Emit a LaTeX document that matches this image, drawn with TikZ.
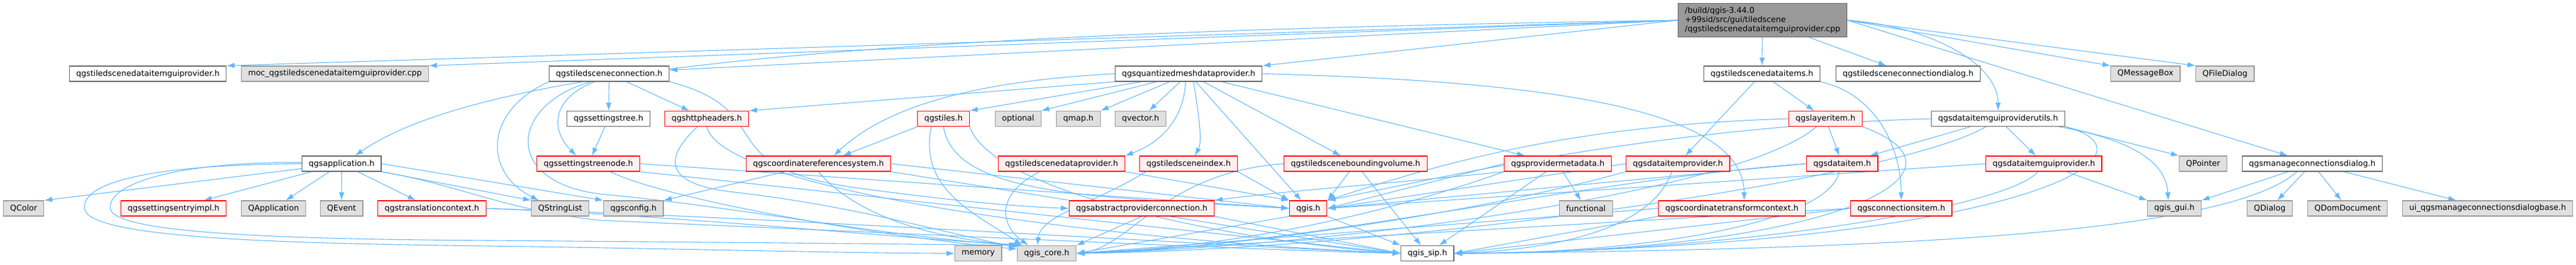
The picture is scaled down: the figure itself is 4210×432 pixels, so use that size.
\documentclass[tikz,border=0pt]{standalone}
\usepackage{fontspec}
\setmainfont{DejaVu Sans}
\usetikzlibrary{arrows.meta,backgrounds}

\definecolor{edgeblue}{HTML}{63B8FF}
\definecolor{boxgrey}{HTML}{E0E0E0}
\definecolor{boxgreyline}{HTML}{999999}
\definecolor{boxdark}{HTML}{666666}
\definecolor{boxpink}{HTML}{FFF0F0}

\begin{document}
\begin{tikzpicture}[
	x=1pt, y=1pt,
	font=\fontsize{13}{15}\selectfont,
	filebox/.style={draw, rectangle, line width=1.2pt, minimum height=25pt, inner xsep=11pt, inner ysep=2pt, anchor=west},
	mainfile/.style={filebox, draw=boxdark, fill=boxgreyline, align=left, minimum height=55pt, anchor=north west},
	ownfile/.style={filebox, draw=boxdark, fill=white},
	sysfile/.style={filebox, draw=boxgreyline, fill=boxgrey},
	redfile/.style={filebox, draw=red, fill=boxpink},
	dep/.style={draw=edgeblue, line width=1.1pt, -{Latex[length=13pt,width=9pt]}}
	]
	\useasboundingbox (0,0) rectangle (4210,432);
	
	\node[mainfile] (m) at (2742,427) {/build/qgis-3.44.0\\+99sid/src/gui/tiledscene\\/qgstiledscenedataitemguiprovider.cpp};
	
	% row 1
	\node[ownfile] (gip) at (113,311.5) {qgstiledscenedataitemguiprovider.h};
	\node[sysfile] (moc) at (394,311.5) {moc\_qgstiledscenedataitemguiprovider.cpp};
	\node[ownfile] (conn) at (897,311.5) {qgstiledsceneconnection.h};
	\node[ownfile] (qmesh) at (1822,311.5) {qgsquantizedmeshdataprovider.h};
	\node[ownfile] (items) at (2784,311.5) {qgstiledscenedataitems.h};
	\node[ownfile] (cdlg) at (3000,311.5) {qgstiledsceneconnectiondialog.h};
	\node[sysfile] (msgbox) at (3449,311.5) {QMessageBox};
	\node[sysfile] (filedlg) at (3588,311.5) {QFileDialog};
	
	% row 2
	\node[ownfile] (stree) at (926,238) {qgssettingstree.h};
	\node[redfile] (http) at (1086,238) {qgshttpheaders.h};
	\node[redfile] (tiles) at (1499,238) {qgstiles.h};
	\node[sysfile] (optional) at (1626,238) {optional};
	\node[sysfile] (qmap) at (1726,238) {qmap.h};
	\node[sysfile] (qvector) at (1822,238) {qvector.h};
	\node[redfile] (layeritem) at (2923,238) {qgslayeritem.h};
	\node[ownfile] (utils) at (3156,238) {qgsdataitemguiproviderutils.h};
	
	% row 3
	\node[ownfile] (app) at (493,164.5) {qgsapplication.h};
	\node[redfile] (stnode) at (877,164.5) {qgssettingstreenode.h};
	\node[redfile] (crs) at (1219,164.5) {qgscoordinatereferencesystem.h};
	\node[redfile] (tsdp) at (1631,164.5) {qgstiledscenedataprovider.h};
	\node[redfile] (tsidx) at (1862,164.5) {qgstiledsceneindex.h};
	\node[redfile] (tsbv) at (2098,164.5) {qgstiledsceneboundingvolume.h};
	\node[redfile] (provmeta) at (2458,164.5) {qgsprovidermetadata.h};
	\node[redfile] (dip) at (2657,164.5) {qgsdataitemprovider.h};
	\node[redfile] (dataitem) at (2952,164.5) {qgsdataitem.h};
	\node[redfile] (dgp) at (3245,164.5) {qgsdataitemguiprovider.h};
	\node[sysfile] (qpointer) at (3561,164.5) {QPointer};
	\node[ownfile] (mcd) at (3664,164.5) {qgsmanageconnectionsdialog.h};
	
	% row 4
	\node[sysfile] (qcolor) at (5,91.5) {QColor};
	\node[redfile] (sentry) at (197,91.5) {qgssettingsentryimpl.h};
	\node[sysfile] (qapp) at (394,91.5) {QApplication};
	\node[sysfile] (qevent) at (523,91.5) {QEvent};
	\node[redfile] (transctx) at (617,91.5) {qgstranslationcontext.h};
	\node[sysfile] (strlist) at (868,91.5) {QStringList};
	\node[sysfile] (config) at (986,91.5) {qgsconfig.h};
	\node[redfile] (apc) at (1747,91.5) {qgsabstractproviderconnection.h};
	\node[redfile] (qgis) at (2107,91.5) {qgis.h};
	\node[sysfile] (functional) at (2548,91.5) {functional};
	\node[redfile] (ctc) at (2710,91.5) {qgscoordinatetransformcontext.h};
	\node[redfile] (connitem) at (3024,91.5) {qgsconnectionsitem.h};
	\node[sysfile] (gui) at (3509,91.5) {qgis\_gui.h};
	\node[sysfile] (qdialog) at (3672,91.5) {QDialog};
	\node[sysfile] (qdom) at (3771,91.5) {QDomDocument};
	\node[sysfile] (uibase) at (3926,91.5) {ui\_qgsmanageconnectionsdialogbase.h};
	
	% row 5
	\node[sysfile] (memory) at (1560,18) {memory};
	\node[sysfile] (core) at (1662,18) {qgis\_core.h};
	\node[ownfile] (sip) at (2289,18) {qgis\_sip.h};
	
	\begin{scope}[on background layer]
	\path
	(m.west) edge[dep] (gip.north east)
	(m.west) edge[dep] (moc.north east)
	(m.west) edge[dep] ([yshift=6pt]conn.east)
	(m.west) edge[dep] (qmesh.north east)
	(m) edge[dep] (items)
	(m) edge[dep] (cdlg)
	(m.east) edge[dep] (msgbox.north west)
	(m.east) edge[dep] (filedlg.north west)
	(m.east) edge[dep] ([xshift=-40pt]mcd.north)
	
	(conn) edge[dep] (stree)
	(conn) edge[dep] (http)
	(stree) edge[dep] (stnode)
	(stnode.east) edge[dep] (qgis.west)
	(stnode.south east) edge[dep] (sip.west)
	
	([yshift=-8pt]app.west) edge[dep] (qcolor.north east)
	(app) edge[dep] (sentry)
	(app) edge[dep] (qapp)
	(app) edge[dep] (qevent)
	(app) edge[dep] (transctx)
	(app.south east) edge[dep] (strlist.north west)
	(app.east) edge[dep] (config.north west)
	
	(crs) edge[dep] (config.north east)
	(crs.east) edge[dep] (qgis.west)
	(crs.south east) edge[dep] (sip.west)
	(tiles.south west) edge[dep] ([xshift=40pt]crs.north)
	
	(qmesh) edge[dep] (tiles.north east)
	(qmesh) edge[dep] (optional.north east)
	(qmesh) edge[dep] (qmap.north east)
	(qmesh) edge[dep] (qvector)
	(qmesh.south west) edge[dep] (http.north east)
	(qmesh) edge[dep] (qgis)
	(qmesh) edge[dep] (tsbv)
	(qmesh) edge[dep] (provmeta)
	
	(tsdp.south east) edge[dep] (qgis.north west)
	(tsidx.south east) edge[dep] (qgis.north west)
	(tsbv) edge[dep] (qgis.north east)
	(tsbv) edge[dep] (sip)
	(provmeta) edge[dep] (functional)
	(provmeta) edge[dep] (sip)
	(provmeta.west) edge[dep] (qgis.east)
	(dip.west) edge[dep] (qgis.east)
	(layeritem) edge[dep] (dataitem)
	(dataitem.west) edge[dep] (qgis.east)
	(items) edge[dep] (dip)
	(items) edge[dep] (layeritem)
	(utils) edge[dep] (dataitem)
	(utils) edge[dep] (dgp)
	(utils.south east) edge[dep] (qpointer.north west)
	(dgp) edge[dep] (gui.north west)
	(dgp.west) edge[dep] (qgis.east)
	(connitem.west) edge[dep] (core.east)
	(connitem.west) edge[dep] (sip.east)
	(ctc.west) edge[dep] (core.east)
	(ctc.south west) edge[dep] (sip.east)
	(mcd) edge[dep] (gui.north east)
	(mcd) edge[dep] (qdialog)
	(mcd) edge[dep] (qdom)
	(mcd) edge[dep] (uibase)
	(qgis.south west) edge[dep] (core.east)
	(qgis.south east) edge[dep] (sip.north west)
	(apc.south) edge[dep] (core.north east)
	(apc.south east) edge[dep] (sip.west);
	
	% curved ones
	\draw[dep] (m.west) .. controls (1500,380) and (800,330) .. ([xshift=22pt]app.north);
	\draw[dep] (m.east) .. controls (3150,390) and (3265,330) .. (utils.north);
	\draw[dep] ([xshift=-24pt]conn.south) .. controls (900,270) and (900,220) .. ([xshift=-20pt]stnode.north);
	\draw[dep] (conn.south west) .. controls (790,250) and (790,150) .. ([xshift=-35pt]strlist.north);
	\draw[dep] ([xshift=-30pt]conn.south) .. controls (830,260) and (820,130) .. (990,114) .. controls (1200,95) and (1450,45) .. (core.north west);
	\draw[dep] (conn.south east) .. controls (1280,250) and (1150,160) .. (1400,125) .. controls (1550,105) and (1650,95) .. (apc.west);
	\draw[dep] ([xshift=-15pt]http.south) .. controls (1080,170) and (1090,130) .. (1200,118) .. controls (1400,95) and (1550,50) .. ([yshift=-3pt]core.north west);
	\draw[dep] (http.south) .. controls (1180,120) and (1800,40) .. (sip.west);
	\draw[dep] ([xshift=36pt]stnode.south) .. controls (1080,110) and (1400,50) .. ([yshift=-6pt]core.north west);
	
	\draw[dep] (app.west) .. controls (250,163) and (135,135) .. (138,92) .. controls (140,40) and (500,34) .. (800,30) .. controls (1100,26) and (1400,18) .. (memory.west);
	\draw[dep] ([yshift=2pt]app.west) .. controls (300,168) and (178,135) .. (180,92) .. controls (182,48) and (500,41) .. (800,39) .. controls (1200,36) and (1500,33) .. (core.north west);
	\draw[dep] (app.south east) .. controls (750,130) and (820,90) .. (980,72) .. controls (1500,50) and (2000,25) .. (sip.west);
	\draw[dep] (transctx.east) .. controls (1100,80) and (1450,45) .. ([xshift=4pt]core.north west);
	\draw[dep] (transctx.east) .. controls (1300,75) and (2000,30) .. (sip.west);
	
	\draw[dep] (crs.south) .. controls (1380,100) and (1480,45) .. ([xshift=8pt]core.north west);
	\draw[dep] ([xshift=-20pt]tiles.south) .. controls (1500,120) and (1600,80) .. ([xshift=-40pt]core.north);
	\draw[dep] (tiles.south) .. controls (1560,110) and (1800,110) .. (qgis.west);
	\draw[dep] (tiles.south east) .. controls (1620,120) and (2000,40) .. (sip.west);
	
	\draw[dep] (qmesh.west) .. controls (1600,300) and (1450,260) .. ([xshift=25pt]crs.north);
	\draw[dep] ([xshift=-5pt]qmesh.south) .. controls (1935,240) and (1900,200) .. (tsdp.north east);
	\draw[dep] ([xshift=8pt]qmesh.south) .. controls (1960,240) and (1965,200) .. ([xshift=10pt]tsidx.north);
	\draw[dep] (qmesh.east) .. controls (2500,300) and (2850,260) .. ([xshift=20pt]ctc.north);
	
	\draw[dep] ([xshift=-36pt]tsdp.south) .. controls (1620,110) and (1640,60) .. ([xshift=-30pt]core.north);
	\draw[dep] ([xshift=-70pt]tsidx.south) .. controls (1790,100) and (1700,80) .. ([xshift=-15pt]core.north);
	\draw[dep] (tsbv.west) .. controls (1900,150) and (1850,30) .. (core.east);
	\draw[dep] (provmeta.south west) .. controls (2200,60) and (1950,25) .. (core.east);
	\draw[dep] (provmeta.south west) .. controls (2250,130) and (2100,120) .. (apc.north east);
	\draw[dep] ([xshift=-10pt]dip.south) .. controls (2700,60) and (2550,25) .. (sip.east);
	\draw[dep] (dip.south west) .. controls (2400,80) and (2000,25) .. (core.east);
	
	\draw[dep] (layeritem.west) .. controls (2600,228) and (2400,180) .. (qgis.north east);
	\draw[dep] ([xshift=-15pt]layeritem.south) .. controls (2850,120) and (2200,30) .. (core.east);
	\draw[dep] (layeritem.south east) .. controls (3250,150) and (3000,20) .. (sip.east);
	\draw[dep] (dataitem.west) .. controls (2600,140) and (2100,25) .. (core.east);
	\draw[dep] ([xshift=-5pt]dataitem.south) .. controls (2990,70) and (2700,18) .. (sip.east);
	\draw[dep] (items.south east) .. controls (3060,280) and (3106,200) .. (connitem.north);
	
	\draw[dep] ([xshift=-10pt]utils.south east) .. controls (3450,210) and (3540,180) .. ([xshift=-10pt]gui.north);
	\draw[dep] (utils.west) .. controls (2700,225) and (2350,140) .. (qgis.north east);
	\draw[dep] ([xshift=-20pt]utils.south) .. controls (3100,140) and (2300,25) .. (core.east);
	\draw[dep] (utils.south east) .. controls (3550,180) and (3300,30) .. (sip.east);
	\draw[dep] ([xshift=-10pt]dgp.south) .. controls (3280,90) and (2800,18) .. (sip.east);
	\draw[dep] ([xshift=-25pt]mcd.south) .. controls (3650,60) and (3200,25) .. (sip.east);
	\end{scope}
	
\end{tikzpicture}
\end{document}
